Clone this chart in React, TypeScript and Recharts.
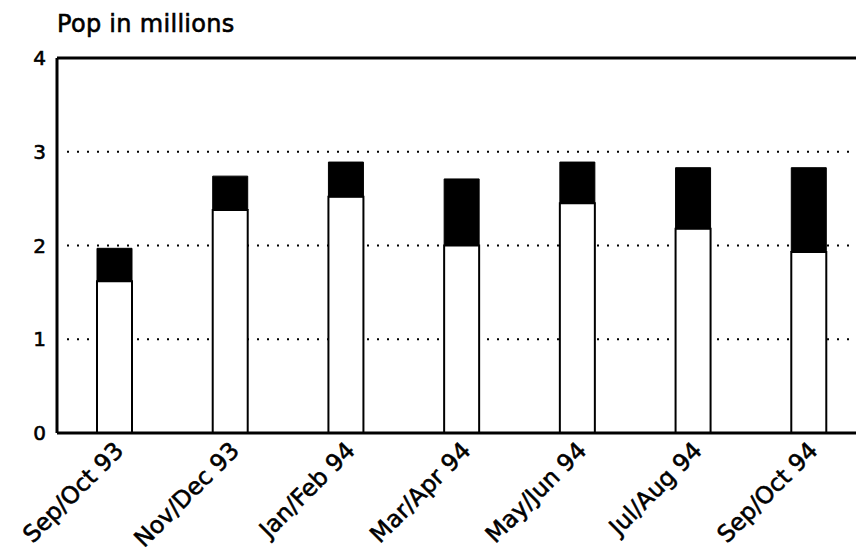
import React from 'react';
import { BarChart, Bar, XAxis, YAxis, CartesianGrid, ReferenceLine } from 'recharts';

const categories = ['Sep/Oct 93', 'Nov/Dec 93', 'Jan/Feb 94', 'Mar/Apr 94', 'May/Jun 94', 'Jul/Aug 94', 'Sep/Oct 94'];
const baseValues = [1.62, 2.38, 2.52, 2.0, 2.45, 2.18, 1.93];
const topValues = [0.35, 0.36, 0.37, 0.71, 0.44, 0.65, 0.9];
const yTicks = [0, 1, 2, 3, 4];
const title = 'Pop in millions';

const data = categories.map((c, i) => ({ name: c, base: baseValues[i], top: topValues[i] }));

const FONT = '"DejaVu Sans", sans-serif';

const XTick = (props: any) => {
  const { x, y, payload } = props;
  return (
    <g transform={`translate(${x + 10},${y + 19})`}>
      <text
        textAnchor="end"
        transform="rotate(-45)"
        fontFamily={FONT}
        fontSize={23.5}
        fill="#000"
        stroke="#000"
        strokeWidth={0.6}
      >
        {payload.value}
      </text>
    </g>
  );
};

const YTick = (props: any) => {
  const { x, y, payload } = props;
  return (
    <text
      x={x}
      y={y}
      dy={7}
      textAnchor="end"
      fontFamily={FONT}
      fontSize={20}
      fill="#000"
      stroke="#000"
      strokeWidth={0.6}
    >
      {payload.value}
    </text>
  );
};

const gridLine = (p: any) => (
  <line
    key={'h' + p.index + '-' + p.y1}
    x1={p.x1 + 10}
    x2={p.x2}
    y1={p.y1}
    y2={p.y2}
    stroke="#000"
    strokeWidth={2}
    strokeDasharray="2 8"
  />
);

export default function App() {
  return (
    <div style={{ position: 'absolute', left: 0, top: 0, width: 856, height: 553, overflow: 'hidden', background: '#fff' }}>
      <div
        style={{
          position: 'absolute',
          left: 57,
          top: 12,
          fontFamily: FONT,
          fontSize: 24,
          lineHeight: '24px',
          color: '#000',
          whiteSpace: 'nowrap',
          WebkitTextStroke: '0.6px #000',
          letterSpacing: '0.3px',
        }}
      >
        {title}
      </div>
      <BarChart
        width={880}
        height={553}
        data={data}
        margin={{ top: 58, right: 13, bottom: 10, left: 7 }}
        barSize={35}
      >
        <CartesianGrid vertical={false} horizontal={gridLine} />
        <XAxis
          dataKey="name"
          height={110}
          tickLine={false}
          tickSize={0}
          tickMargin={0}
          interval={0}
          tick={<XTick />}
          axisLine={{ stroke: '#000', strokeWidth: 3 }}
        />
        <YAxis
          width={50}
          domain={[0, 4]}
          ticks={yTicks}
          tickLine={false}
          tickSize={0}
          tickMargin={11}
          axisLine={{ stroke: '#000', strokeWidth: 3 }}
          tick={<YTick />}
        />
        <ReferenceLine y={4} stroke="#000" strokeWidth={3} />
        <Bar dataKey="base" stackId="a" fill="#fff" stroke="#000" strokeWidth={2} isAnimationActive={false} />
        <Bar dataKey="top" stackId="a" fill="#000" stroke="#000" strokeWidth={1} isAnimationActive={false} />
      </BarChart>
    </div>
  );
}
